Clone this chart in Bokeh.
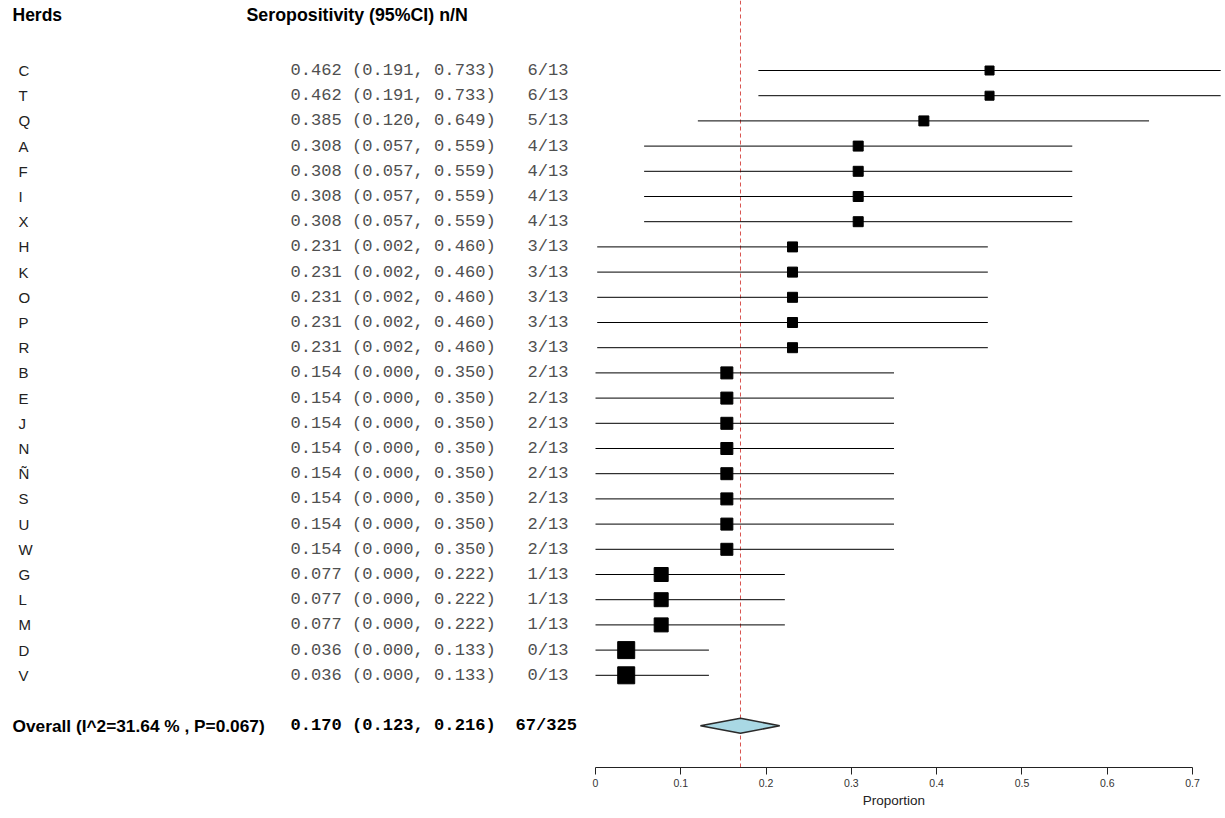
from bokeh.plotting import figure
from bokeh.models import Range1d, LinearAxis, FixedTicker
from bokeh.core.properties import value
from bokeh.embed import file_html
from bokeh.resources import INLINE

# ---------------- data ----------------
herds = ["C", "T", "Q", "A", "F", "I", "X", "H", "K", "O", "P", "R",
         "B", "E", "J", "N", "Ñ", "S", "U", "W", "G", "L", "M", "D", "V"]
estimate = [0.462, 0.462, 0.385, 0.308, 0.308, 0.308, 0.308,
            0.231, 0.231, 0.231, 0.231, 0.231,
            0.154, 0.154, 0.154, 0.154, 0.154, 0.154, 0.154, 0.154,
            0.077, 0.077, 0.077, 0.036, 0.036]
ci_low = [0.191, 0.191, 0.120, 0.057, 0.057, 0.057, 0.057,
          0.002, 0.002, 0.002, 0.002, 0.002,
          0.000, 0.000, 0.000, 0.000, 0.000, 0.000, 0.000, 0.000,
          0.000, 0.000, 0.000, 0.000, 0.000]
ci_high = [0.733, 0.733, 0.649, 0.559, 0.559, 0.559, 0.559,
           0.460, 0.460, 0.460, 0.460, 0.460,
           0.350, 0.350, 0.350, 0.350, 0.350, 0.350, 0.350, 0.350,
           0.222, 0.222, 0.222, 0.133, 0.133]
positives = [6, 6, 5, 4, 4, 4, 4, 3, 3, 3, 3, 3,
             2, 2, 2, 2, 2, 2, 2, 2, 1, 1, 1, 0, 0]
sampled = [13] * 25

overall_est = 0.170
overall_low = 0.123
overall_high = 0.216
overall_pos = 67
overall_n = 325
i2 = 31.64
p_het = 0.067

tick_values = [0, 0.1, 0.2, 0.3, 0.4, 0.5, 0.6, 0.7]
tick_labels = ["0", "0.1", "0.2", "0.3", "0.4", "0.5", "0.6", "0.7"]

# ---------------- styles / layout ----------------
box_px = [9, 9, 10, 10, 10, 10, 10, 10, 10, 10, 10, 10,
          12, 12, 12, 12, 12, 12, 12, 12, 14, 14, 14, 17, 17]

W, H = 1225, 818
OFF = 0                                   # page offset of the figure
X0_PX, PX_PER_UNIT = 595 - OFF, 852.9     # data 0 -> screen x 595
ROW0_PX, PX_PER_ROW = 70 - OFF, 25.2      # row 1 -> screen y 70


def sx(px):
    """screen px (page coords) -> data x"""
    return (px - OFF - X0_PX) / PX_PER_UNIT


def sy(py):
    return 1 + (py - OFF - ROW0_PX) / PX_PER_ROW


rows = list(range(1, len(herds) + 1))
overall_row = len(herds) + 2
axis_row = sy(767)

p = figure(width=W, height=H, output_backend="svg", toolbar_location=None,
           x_range=Range1d(sx(OFF), sx(OFF + W)),
           y_range=Range1d(sy(OFF + H), sy(OFF)),
           x_axis_location=None, y_axis_location=None,
           min_border=0, border_fill_color="white")
p.outline_line_color = None
p.xgrid.visible = False
p.ygrid.visible = False

SANS = value("Liberation Sans")
MONO = value("Liberation Mono")

# headers
p.text(x=[sx(12)], y=[sy(14)], text=["Herds"], text_font=SANS,
       text_font_style="bold", text_font_size="17.5px", text_baseline="middle",
       text_color="black")
p.text(x=[sx(246)], y=[sy(14)], text=["Seropositivity (95%CI) n/N"], text_font=SANS,
       text_font_style="bold", text_font_size="17.8px", text_baseline="middle",
       text_color="black")

# herd rows
p.text(x=[sx(18)] * len(herds), y=rows, text=herds, text_font=SANS,
       text_font_size="15px", text_baseline="middle", text_color="#222222")
ci_text = [f"{e:.3f} ({l:.3f}, {h:.3f})" for e, l, h in zip(estimate, ci_low, ci_high)]
p.text(x=[sx(290)] * len(herds), y=rows, text=ci_text, text_font=MONO,
       text_font_size="17.1px", text_baseline="middle", text_color="#505050")
nn_text = [f"{a}/{b}" for a, b in zip(positives, sampled)]
p.text(x=[sx(527)] * len(herds), y=rows, text=nn_text, text_font=MONO,
       text_font_size="17.1px", text_baseline="middle", text_color="#505050")

# overall row
p.text(x=[sx(12)], y=[overall_row],
       text=[f"Overall (I^2={i2:.2f} % , P={p_het:.3f})"], text_font=SANS,
       text_font_style="bold", text_font_size="17.3px", text_baseline="middle",
       text_color="black")
p.text(x=[sx(290)], y=[overall_row],
       text=[f"{overall_est:.3f} ({overall_low:.3f}, {overall_high:.3f})"],
       text_font=MONO, text_font_style="bold", text_font_size="17.1px",
       text_baseline="middle", text_color="black")
p.text(x=[sx(515)], y=[overall_row], text=[f"{overall_pos}/{overall_n}"],
       text_font=MONO, text_font_style="bold", text_font_size="17.1px",
       text_baseline="middle", text_color="black")

# reference line at overall estimate
p.segment(x0=[overall_est], y0=[sy(OFF)], x1=[overall_est], y1=[axis_row],
          line_color="#d9534f", line_width=1, line_dash="4 3")

# CI lines and squares
p.segment(x0=ci_low, y0=rows, x1=ci_high, y1=rows, line_color="black", line_width=1)
p.scatter(x=estimate, y=rows, marker="square", size=box_px,
          fill_color="black", line_color="black")

# overall diamond
dh = 7.5 / PX_PER_ROW
p.patch(x=[overall_low, overall_est, overall_high, overall_est],
        y=[overall_row, overall_row - dh, overall_row, overall_row + dh],
        fill_color="#a9d8e4", line_color="#2a2a2a", line_width=1.6)

# x axis
xaxis = LinearAxis(fixed_location=axis_row, bounds=(tick_values[0], tick_values[-1]),
                   ticker=FixedTicker(ticks=tick_values),
                   axis_label="Proportion")
xaxis.major_label_overrides = {t: l for t, l in zip(tick_values, tick_labels)}
xaxis.minor_tick_line_color = None
xaxis.major_tick_out = 7
xaxis.major_tick_in = 0
xaxis.major_label_standoff = 4
xaxis.major_label_text_font = "Liberation Sans"
xaxis.major_label_text_font_size = "10.5px"
xaxis.major_label_text_color = "#333333"
xaxis.axis_label_text_font = "Liberation Sans"
xaxis.axis_label_text_font_size = "13.5px"
xaxis.axis_label_text_font_style = "normal"
xaxis.axis_label_text_color = "#222222"
xaxis.axis_label_standoff = 3
xaxis.axis_line_color = "#222222"
xaxis.major_tick_line_color = "#222222"
p.add_layout(xaxis, "below")

open("out.html", "w").write(file_html(p, INLINE))
